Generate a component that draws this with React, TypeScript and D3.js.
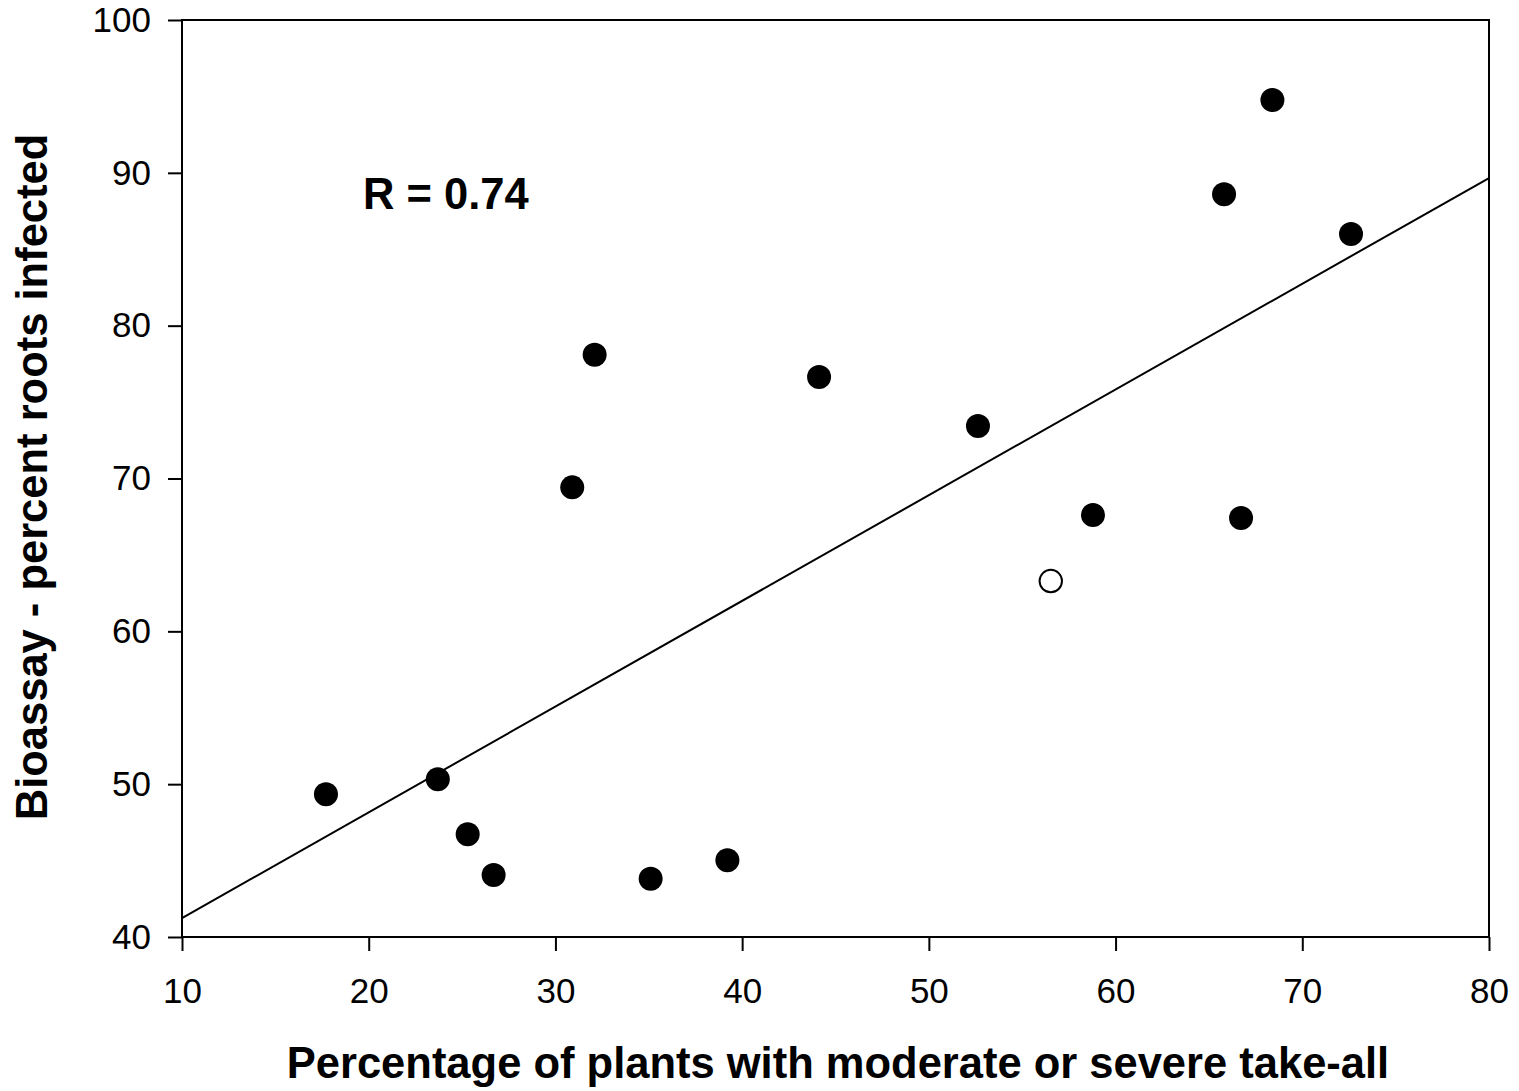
import { useEffect, useRef } from "react";
import * as d3 from "d3";

// readings
const plantsPct = [17.71, 23.7, 25.3, 26.69, 30.9, 32.1, 35.1, 39.21, 44.12, 52.63, 58.79, 65.81, 66.72, 68.4, 72.61];
const rootsPct = [49.34, 50.32, 46.72, 44.06, 69.42, 78.1, 43.81, 45.02, 76.64, 73.43, 67.61, 88.6, 67.42, 94.77, 86.0];
const openPlants = [56.53];
const openRoots = [63.29];
const fitX = [10, 80];
const fitY = [41.24, 89.66];
const xTicks = [10, 20, 30, 40, 50, 60, 70, 80];
const yTicks = [40, 50, 60, 70, 80, 90, 100];

const width = 1519;
const height = 1091;
const margin = { top: 20, right: 30, bottom: 154, left: 182 };
const fontFamily = "'Liberation Sans', Arial, Helvetica, sans-serif";

const App = () => {
  const svgRef = useRef<SVGSVGElement | null>(null);

  useEffect(() => {
    if (!svgRef.current) return;
    const svg = d3.select(svgRef.current);
    svg.selectAll("*").remove();

    const x = d3.scaleLinear().domain([10, 80]).range([margin.left, width - margin.right]);
    const y = d3.scaleLinear().domain([40, 100]).range([height - margin.bottom, margin.top]);

    // frame
    svg
      .append("rect")
      .attr("x", x(10))
      .attr("y", y(100))
      .attr("width", x(80) - x(10))
      .attr("height", y(40) - y(100))
      .attr("fill", "none")
      .attr("stroke", "#000")
      .attr("stroke-width", 2);

    const xAxis = svg
      .append("g")
      .attr("transform", `translate(0,${y(40)})`)
      .call(d3.axisBottom(x).tickValues(xTicks).tickSize(14).tickPadding(27).tickFormat(d3.format("d")));
    xAxis.select(".domain").remove();
    xAxis.selectAll("line").attr("stroke", "#000").attr("stroke-width", 2);
    xAxis
      .selectAll("text")
      .attr("fill", "#000")
      .attr("font-family", fontFamily)
      .attr("font-size", 35);

    const yAxis = svg
      .append("g")
      .attr("transform", `translate(${x(10)},0)`)
      .call(d3.axisLeft(y).tickValues(yTicks).tickSize(14).tickPadding(17).tickFormat(d3.format("d")));
    yAxis.select(".domain").remove();
    yAxis.selectAll("line").attr("stroke", "#000").attr("stroke-width", 2);
    yAxis
      .selectAll("text")
      .attr("fill", "#000")
      .attr("font-family", fontFamily)
      .attr("font-size", 35);

    // regression line
    const line = d3
      .line<number>()
      .x((d) => x(d))
      .y((d, i) => y(fitY[i]));
    svg
      .append("path")
      .attr("d", line(fitX))
      .attr("fill", "none")
      .attr("stroke", "#000")
      .attr("stroke-width", 2);

    svg
      .append("g")
      .selectAll("circle")
      .data(plantsPct)
      .join("circle")
      .attr("cx", (d) => x(d))
      .attr("cy", (d, i) => y(rootsPct[i]))
      .attr("r", 12)
      .attr("fill", "#000");

    svg
      .append("g")
      .selectAll("circle")
      .data(openPlants)
      .join("circle")
      .attr("cx", (d) => x(d))
      .attr("cy", (d, i) => y(openRoots[i]))
      .attr("r", 11.2)
      .attr("fill", "#fff")
      .attr("stroke", "#000")
      .attr("stroke-width", 2);

    svg
      .append("text")
      .attr("x", 363)
      .attr("y", 209)
      .attr("font-family", fontFamily)
      .attr("font-size", 43.5)
      .attr("font-weight", "bold")
      .text("R = 0.74");

    svg
      .append("text")
      .attr("x", 838)
      .attr("y", 1078)
      .attr("text-anchor", "middle")
      .attr("font-family", fontFamily)
      .attr("font-size", 43.5)
      .attr("font-weight", "bold")
      .text("Percentage of plants with moderate or severe take-all");

    svg
      .append("text")
      .attr("transform", `translate(47,477) rotate(-90)`)
      .attr("text-anchor", "middle")
      .attr("font-family", fontFamily)
      .attr("font-size", 43.5)
      .attr("font-weight", "bold")
      .text("Bioassay - percent roots infected");
  }, []);

  return (
    <svg
      ref={svgRef}
      width={width}
      height={height}
      style={{ position: "absolute", left: 0, top: 0, background: "#fff" }}
    />
  );
};

export default App;
